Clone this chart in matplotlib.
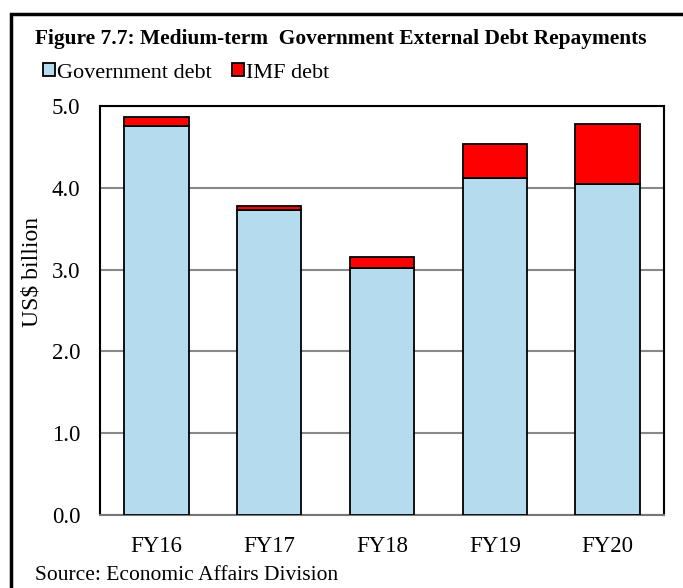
import matplotlib
matplotlib.use("Agg")
import matplotlib.pyplot as plt
from matplotlib.patches import Rectangle, Patch

categories = ["FY16", "FY17", "FY18", "FY19", "FY20"]
gov_debt = [4.75, 3.73, 3.02, 4.12, 4.05]
imf_debt = [0.11, 0.05, 0.13, 0.42, 0.73]
yticks = [0.0, 1.0, 2.0, 3.0, 4.0, 5.0]

plt.rcParams['font.family'] = ['Liberation Serif', 'DejaVu Serif']

fig = plt.figure(figsize=(6.83, 5.88), dpi=100)
ax = fig.add_axes([100/683, 1-515/588, (664-100)/683, (515-106)/588])

x = range(len(categories))
ax.bar(x, gov_debt, width=0.57, color='#b4dcee', edgecolor='black', linewidth=1.3, zorder=3)
ax.bar(x, imf_debt, bottom=gov_debt, width=0.57, color='#ff0000', edgecolor='black', linewidth=1.3, zorder=3)

ax.set_xlim(-0.5, len(categories)-0.5)
ax.set_ylim(0, 5)
ax.set_yticks(yticks)
ax.set_yticklabels([f"{v:.1f}" for v in yticks], fontsize=16.5)
ax.set_xticks(list(x))
ax.set_xticklabels(categories, fontsize=16.5)
ax.tick_params(axis='both', length=0)
ax.tick_params(axis='y', pad=14)
ax.tick_params(axis='x', pad=15)
ax.yaxis.grid(True, color='#888888', linewidth=1.5, zorder=0)
ax.set_axisbelow(True)
for s in ['left', 'top', 'right']:
    ax.spines[s].set_color('black')
    ax.spines[s].set_linewidth(1.5)
ax.spines['bottom'].set_color('#777777')
ax.spines['bottom'].set_linewidth(1.5)

fig.text(32/683, 1-272/588, "US$ billion", fontsize=17, rotation=90, ha='center', va='center')

fig.patches.append(Rectangle((11/683, -0.1), 1.2, 1.1 - 14/588, transform=fig.transFigure,
                             fill=False, edgecolor='black', linewidth=2.5))

fig.text(35/683, 1-39/588, "Figure 7.7: Medium-term  Government External Debt Repayments",
         fontsize=15.4, fontweight='bold', va='center', ha='left')

handles = [Patch(facecolor='#b4dcee', edgecolor='black', linewidth=1.3, label='Government debt'),
           Patch(facecolor='#ff0000', edgecolor='black', linewidth=1.3, label='IMF debt')]
fig.legend(handles=handles, loc='center left', bbox_to_anchor=(43/683, 1-73/588), ncol=2,
           frameon=False, fontsize=16, handlelength=0.54, handleheight=0.5, handletextpad=0.1,
           columnspacing=0.9, borderpad=0, borderaxespad=0)

fig.text(35/683, 1-576/588, "Source: Economic Affairs Division", fontsize=15.5, va='center', ha='left')

fig.savefig("out.png", dpi=100)
